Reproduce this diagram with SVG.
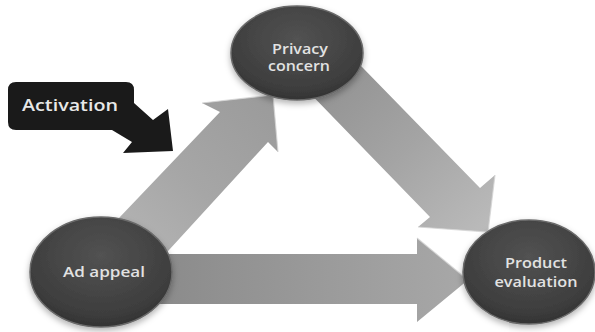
<svg xmlns="http://www.w3.org/2000/svg" width="595" height="332" viewBox="0 0 595 332">
<defs>
<radialGradient id="nodeFill" cx="50%" cy="35%" r="65%">
<stop offset="0" stop-color="#525252"/>
<stop offset="0.8" stop-color="#3e3e3e"/>
<stop offset="1" stop-color="#333333"/>
</radialGradient>
<linearGradient id="g1" x1="0" y1="1" x2="1" y2="0">
<stop offset="0" stop-color="#b8b8b8"/>
<stop offset="0.5" stop-color="#a6a6a6"/>
<stop offset="1" stop-color="#9a9a9a"/>
</linearGradient>
<linearGradient id="g2" x1="0" y1="0" x2="1" y2="1">
<stop offset="0" stop-color="#8c8c8c"/>
<stop offset="0.55" stop-color="#a4a4a4"/>
<stop offset="1" stop-color="#bcbcbc"/>
</linearGradient>
<linearGradient id="g3" x1="0" y1="0" x2="1" y2="0">
<stop offset="0" stop-color="#8a8a8a"/>
<stop offset="1" stop-color="#a8a8a8"/>
</linearGradient>
<filter id="sh" x="-20%" y="-20%" width="140%" height="150%">
<feDropShadow dx="0" dy="3" stdDeviation="3" flood-color="#000" flood-opacity="0.3"/>
</filter>
</defs>
<style>
.node{fill:url(#nodeFill);stroke:#6a6a6a;stroke-width:1.5;filter:url(#sh)}
.lbl{font-family:"Open Sans","Liberation Sans",sans-serif;font-size:13.5px;font-weight:600;fill:#e2e2e2;text-anchor:middle}
.bevel{fill:none;stroke:#d4d4d4;stroke-width:1.2;stroke-opacity:0.8}
</style>
<rect width="595" height="332" fill="#ffffff"/>
<g id="connectors">
<g id="arrow-ad-privacy">
<polygon points="98,240 220,112 202,103 273,95 278,152 268,142 158,262" fill="url(#g1)"/>
<polyline class="bevel" points="202,103 273,95 278,152"/>
</g>
<g id="arrow-privacy-product">
<polygon points="343,47 363,68 480,188 495,175 488,232 418,227 430,217 299,82" fill="url(#g2)"/>
<polyline class="bevel" points="495,175 488,232 418,227"/>
</g>
<g id="arrow-ad-product">
<polygon points="150,254 417,254 417,238 468,280 417,322 417,304 150,304" fill="url(#g3)"/>
<polyline class="bevel" points="417,238 468,280"/>
</g>
</g>
<g id="activation">
<path d="M16,82 H126 Q134,82 134,90 V103 L153,120 L168,109 L173,151 L123,153 L132,142 L112,130 H16 Q8,130 8,122 V90 Q8,82 16,82 Z" fill="#1a1a1a"/>
<text x="22" y="111" font-family="Open Sans, Liberation Sans, sans-serif" font-size="15.5" font-weight="600" fill="#e8e8e8" textLength="96" lengthAdjust="spacingAndGlyphs">Activation</text>
</g>
<g id="privacy-concern">
<ellipse class="node" cx="297" cy="53" rx="66" ry="47"/>
<text class="lbl" x="300" y="54" textLength="56" lengthAdjust="spacingAndGlyphs">Privacy</text>
<text class="lbl" x="299" y="71" textLength="62" lengthAdjust="spacingAndGlyphs">concern</text>
</g>
<g id="ad-appeal">
<ellipse class="node" cx="101" cy="272" rx="71" ry="55"/>
<text class="lbl" x="104" y="277" textLength="82" lengthAdjust="spacingAndGlyphs">Ad appeal</text>
</g>
<g id="product-evaluation">
<ellipse class="node" cx="529" cy="272" rx="66" ry="52"/>
<text class="lbl" x="536" y="268" textLength="62" lengthAdjust="spacingAndGlyphs">Product</text>
<text class="lbl" x="536" y="287" textLength="83" lengthAdjust="spacingAndGlyphs">evaluation</text>
</g>
</svg>
